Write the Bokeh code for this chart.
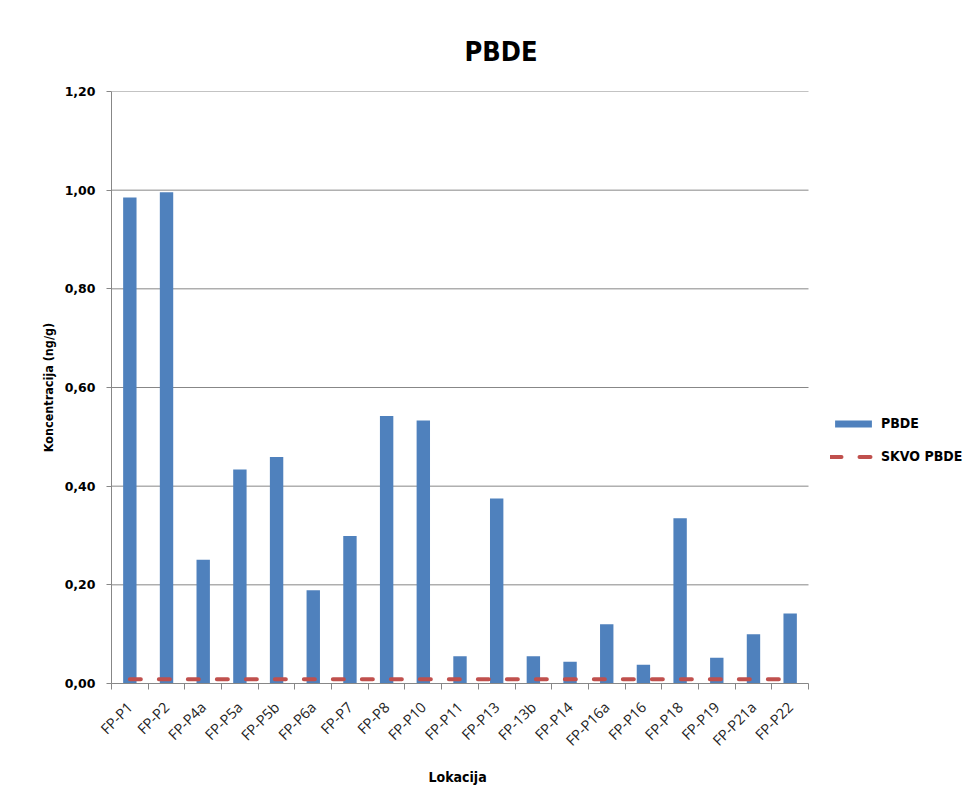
from bokeh.plotting import figure
from bokeh.models import (Range1d, FixedTicker, CustomJSTickFormatter, Legend, LegendItem, Title)
from bokeh.embed import file_html
from bokeh.resources import INLINE
from math import pi

# ---- data ----
locations = ["FP-P1", "FP-P2", "FP-P4a", "FP-P5a", "FP-P5b", "FP-P6a", "FP-P7", "FP-P8",
             "FP-P10", "FP-P11", "FP-P13", "FP-13b", "FP-P14", "FP-P16a", "FP-P16",
             "FP-P18", "FP-P19", "FP-P21a", "FP-P22"]
pbde = [0.985, 0.996, 0.251, 0.434, 0.459, 0.189, 0.299, 0.542, 0.533, 0.055, 0.375,
        0.055, 0.044, 0.120, 0.038, 0.335, 0.052, 0.100, 0.142]
skvo_pbde = [0.0085] * len(locations)
y_ticks = [0.0, 0.2, 0.4, 0.6, 0.8, 1.0, 1.2]

title_text = "PBDE"
x_label = "Lokacija"
y_label = "Koncentracija (ng/g)"
series_names = ["PBDE", "SKVO PBDE"]

BLUE = "#4F81BD"
RED = "#C0504D"
GRID = "#878787"

n = len(locations)
xs = list(range(n))

# layout (pixels)
W, H = 979, 791
LEFT, TOP, BOTTOM_BORDER = 111, 91, 108
PLOT_W = 697                       # width of the category area
FRAME_W = W - LEFT                 # frame extends to the right edge (legend lives there)
x_start = -0.5
x_cat_end = n - 0.5
x_end = x_start + FRAME_W * n / PLOT_W

p = figure(width=W, height=H, output_backend="svg", toolbar_location=None,
           x_range=Range1d(x_start, x_end), y_range=Range1d(y_ticks[0], y_ticks[-1]),
           min_border_left=LEFT, min_border_right=0, min_border_top=TOP,
           min_border_bottom=BOTTOM_BORDER)
p.outline_line_color = None
p.background_fill_color = "white"
p.border_fill_color = "white"

# horizontal gridlines limited to the category area
p.segment(x0=[x_start] * (len(y_ticks) - 1), x1=[x_cat_end] * (len(y_ticks) - 1),
          y0=y_ticks[1:], y1=y_ticks[1:], line_color=GRID, line_width=1)

bars = p.vbar(x=xs, top=pbde, width=0.365, fill_color=BLUE, line_color=None)
line = p.line(x=xs, y=skvo_pbde, line_color=RED, line_width=4, line_dash="11 18",
              line_cap="round")

# title
p.title.text = title_text
p.title.align = "left"
p.title.offset = 353
p.title.text_font = "DejaVu Sans Condensed"
p.title.text_font_style = "bold"
p.title.text_font_size = "27px"
p.title.text_color = "black"
p.title.standoff = 50

# y axis
p.yaxis.ticker = FixedTicker(ticks=y_ticks)
p.yaxis.formatter = CustomJSTickFormatter(code="return tick.toFixed(2).replace('.', ',');")
p.yaxis.major_label_text_font = "DejaVu Sans"
p.yaxis.major_label_text_font_style = "bold"
p.yaxis.major_label_text_font_size = "12.5px"
p.yaxis.major_label_text_color = "black"
p.yaxis.major_label_standoff = 11
p.yaxis.major_tick_out = 5
p.yaxis.major_tick_in = 0
p.yaxis.minor_tick_out = 0
p.yaxis.minor_tick_in = 0
p.yaxis.axis_line_color = GRID
p.yaxis.major_tick_line_color = GRID
p.yaxis.axis_label = y_label
p.yaxis.axis_label_text_font = "DejaVu Sans Condensed"
p.yaxis.axis_label_text_font_style = "bold"
p.yaxis.axis_label_text_font_size = "12.5px"
p.yaxis.axis_label_text_color = "black"
p.yaxis.axis_label_standoff = 6

# x axis
p.xaxis.bounds = (x_start, x_cat_end)
p.xaxis.ticker = FixedTicker(ticks=xs, minor_ticks=[i - 0.5 for i in range(n + 1)])
p.xaxis.major_label_overrides = {i: lab for i, lab in enumerate(locations)}
p.xaxis.major_label_orientation = pi / 4
p.xaxis.major_label_text_font = "Open Sans"
p.xaxis.major_label_text_font_size = "14.5px"
p.xaxis.major_label_text_color = "#222222"
p.xaxis.major_label_standoff = 15
p.xaxis.major_tick_out = 0
p.xaxis.major_tick_in = 0
p.xaxis.minor_tick_out = 6
p.xaxis.minor_tick_in = 0
p.xaxis.minor_tick_line_color = GRID
p.xaxis.axis_line_color = GRID

# x-axis title centred under the category area
p.add_layout(Title(text=x_label, align="left", offset=317, standoff=14,
                   text_font="DejaVu Sans Condensed", text_font_style="bold",
                   text_font_size="14px", text_color="black"), "below")

# grid
p.xgrid.grid_line_color = None
p.ygrid.grid_line_color = None

legend = Legend(items=[LegendItem(label=series_names[0], renderers=[bars]),
                       LegendItem(label=series_names[1], renderers=[line])],
                location=(719, 217), padding=0, margin=0, spacing=13,
                glyph_width=46, glyph_height=9, label_height=20, label_standoff=5,
                label_text_font="DejaVu Sans Condensed", label_text_font_style="bold",
                label_text_font_size="14px", label_text_color="black",
                border_line_color=None, background_fill_alpha=0)
p.add_layout(legend, "center")

open("out.html", "w").write(file_html(p, INLINE))
